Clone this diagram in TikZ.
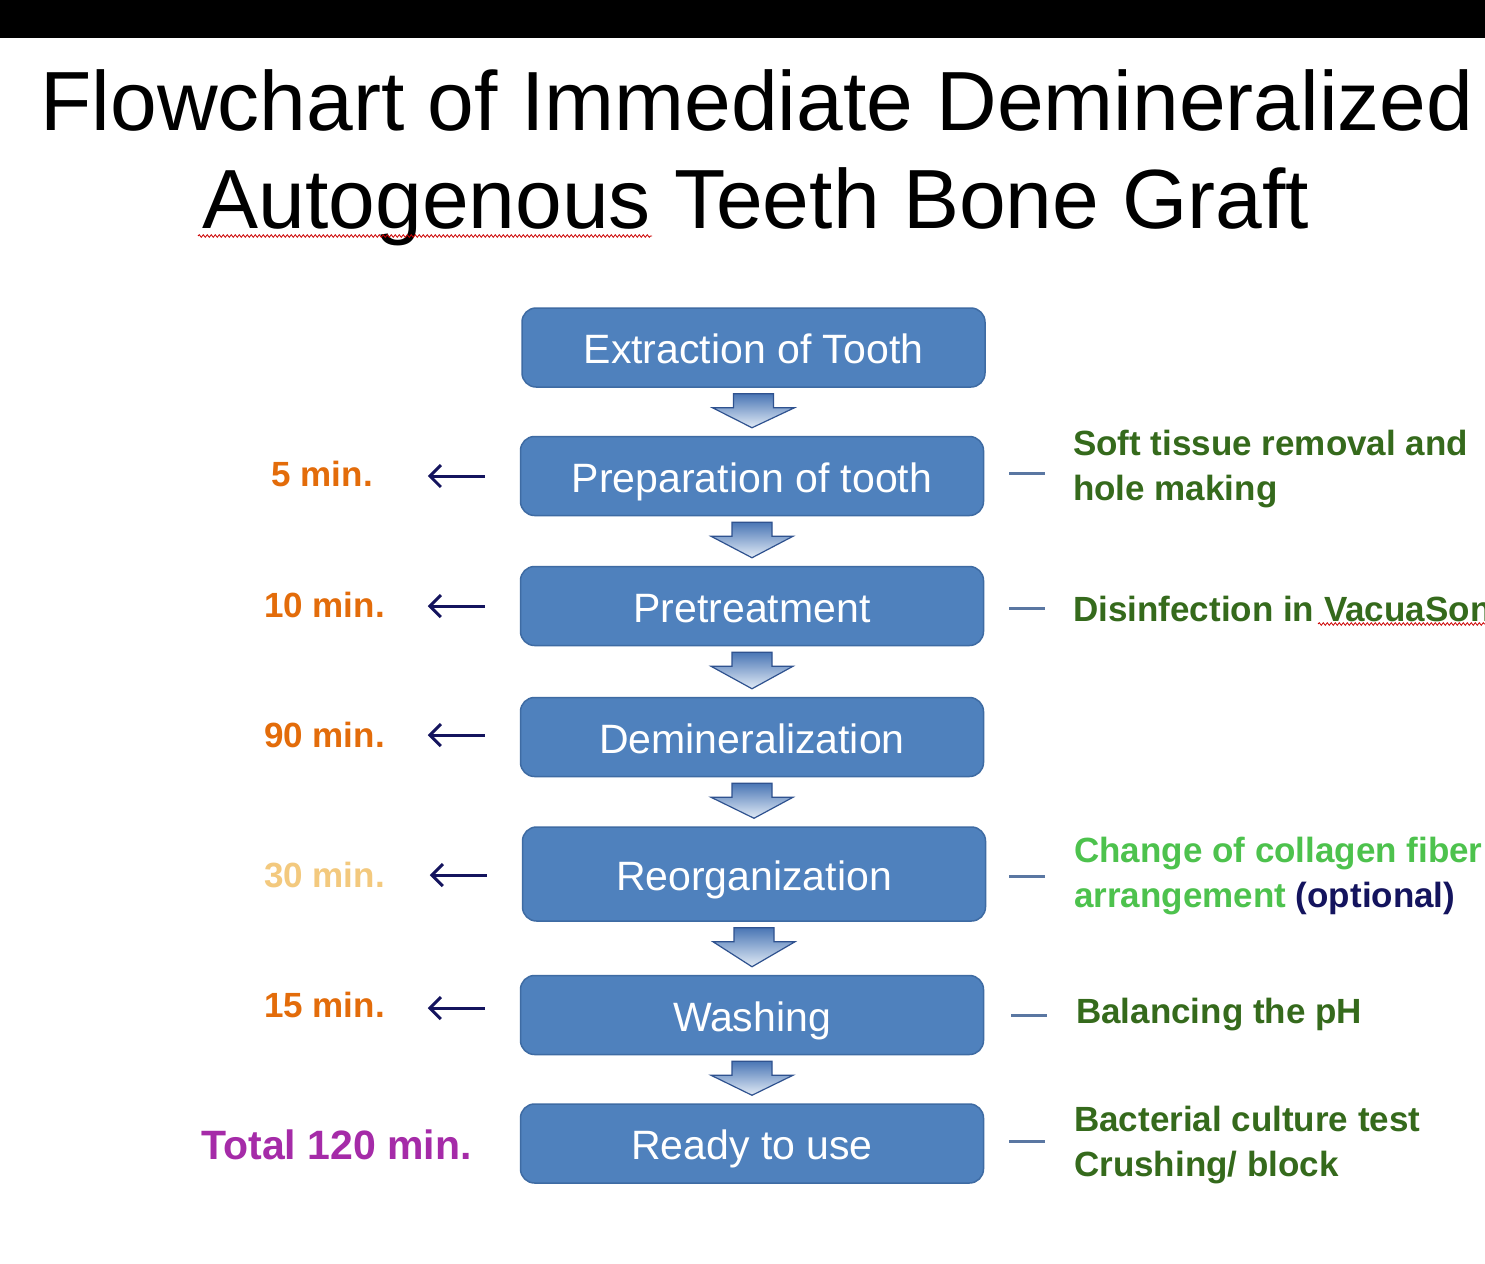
\documentclass[tikz,border=0pt]{standalone}
\usepackage{fontspec}
\setmainfont{Liberation Sans}
\usetikzlibrary{calc,arrows.meta,decorations.pathmorphing}
\definecolor{boxblue}{HTML}{4F81BD}
\definecolor{boxedge}{HTML}{3E6BA3}
\definecolor{arrtop}{HTML}{4A76B5}
\definecolor{arrbot}{HTML}{E2EBF6}
\definecolor{arredge}{HTML}{2F528F}
\definecolor{orng}{HTML}{E36C0A}
\definecolor{lightorng}{HTML}{F3C97E}
\definecolor{purp}{HTML}{A52BA8}
\definecolor{dgreen}{HTML}{356A1C}
\definecolor{bgreen}{HTML}{4DC24D}
\definecolor{navy}{HTML}{14145E}
\definecolor{dashc}{HTML}{5A77A2}
\tikzset{
  stepbox/.style={rectangle, rounded corners=14pt, fill=boxblue, draw=boxedge, line width=1.5pt,
    minimum width=463pt, minimum height=79pt, inner sep=0pt, text=white,
    text height=35pt, text depth=3pt,
    font=\fontsize{41}{49}\selectfont},
  titletext/.style={anchor=base, inner sep=0pt, font=\fontsize{84}{96}\selectfont},
  timelabel/.style={anchor=east, inner sep=0pt, font=\bfseries\fontsize{35}{40}\selectfont},
  notetext/.style={anchor=west, inner sep=0pt, align=left, text=dgreen,
    font=\bfseries\fontsize{35}{45}\selectfont},
  blockarr/.style={top color=arrtop, bottom color=arrbot, draw=arredge, line width=1.2pt, line join=miter},
  leftarr/.style={draw=navy, line width=3pt, -{Straight Barb[length=11pt,width=22pt,line width=3pt]}},
  dashline/.style={draw=dashc, line width=3pt},
  wavy/.style={draw=red!80!black, line width=0.8pt, decorate, decoration={snake, amplitude=1.3pt, segment length=4pt}}
}
\newcommand{\blockarrow}[2]{%
  \path[blockarr] ($(#1.south)+(-20,6)$) -- ($(#1.south)+(20,6)$) -- ($(#1.south)+(20,20)$)
    -- ($(#1.south)+(41,20)$) -- ($(#2.north)+(0,-8)$) -- ($(#1.south)+(-41,20)$)
    -- ($(#1.south)+(-20,20)$) -- cycle;}
\begin{document}
\begin{tikzpicture}[x=1pt,y=-1pt]
\useasboundingbox (0,0) rectangle (1485,1263);
\fill[white] (0,0) rectangle (1485,1263);
\fill[black] (0,0) rectangle (1485,38);

% title
\node[titletext] (t1) at (757,130) {Flowchart of Immediate Demineralized};
\node[titletext] (t2) at (756,228) {Autogenous Teeth Bone Graft};
\draw[wavy] (198,236) -- (652,236);

% boxes
\node[stepbox] (b1) at (753.5,347.5) {Extraction of Tooth};
\node[stepbox] (b2) at (752,476) {Preparation of tooth};
\node[stepbox] (b3) at (752,606) {Pretreatment};
\node[stepbox] (b4) at (752,737) {Demineralization};
\node[stepbox, minimum height=94pt] (b5) at (754,874) {Reorganization};
\node[stepbox] (b6) at (752,1015) {Washing};
\node[stepbox] (b7) at (752,1143.5) {Ready to use};

% block arrows
\blockarrow{b1}{b2}
\blockarrow{b2}{b3}
\blockarrow{b3}{b4}
\blockarrow{b4}{b5}
\blockarrow{b5}{b6}
\blockarrow{b6}{b7}

% time labels
\node[timelabel, text=orng] (l2) at (373,474) {5 min.};
\node[timelabel, text=orng] (l3) at (385,605) {10 min.};
\node[timelabel, text=orng] (l4) at (385,735) {90 min.};
\node[timelabel, text=lightorng] (l5) at (385,875) {30 min.};
\node[timelabel, text=orng] (l6) at (385,1005) {15 min.};
\node[timelabel, text=purp, font=\bfseries\fontsize{41}{48}\selectfont] (l7) at (472,1145) {Total 120 min.};

% left arrows
\draw[leftarr] ($(b2.west)+(-35,0)$) -- ($(b2.west)+(-92,0)$);
\draw[leftarr] ($(b3.west)+(-35,0)$) -- ($(b3.west)+(-92,0)$);
\draw[leftarr] ($(b4.west)+(-35,-2)$) -- ($(b4.west)+(-92,-2)$);
\draw[leftarr] ($(b5.west)+(-35,1)$) -- ($(b5.west)+(-92,1)$);
\draw[leftarr] ($(b6.west)+(-35,-7)$) -- ($(b6.west)+(-92,-7)$);

% right dashes
\draw[dashline] ($(b2.east)+(25,-3)$) -- ++(36,0);
\draw[dashline] ($(b3.east)+(25,2)$) -- ++(36,0);
\draw[dashline] ($(b5.east)+(23,2)$) -- ++(36,0);
\draw[dashline] ($(b6.east)+(27,0)$) -- ++(36,0);
\draw[dashline] ($(b7.east)+(25,-2)$) -- ++(36,0);

% notes
\node[notetext] (n2) at (1073,469) {Soft tissue removal and\\hole making};
\node[notetext] (n3) at (1073,609) {Disinfection in VacuaSon};
\draw[wavy] (1318,624) -- (1485,624);
\node[notetext] (n5) at (1074,876) {\textcolor{bgreen}{Change of collagen fiber}\\\textcolor{bgreen}{arrangement} \textcolor{navy}{(optional)}};
\node[notetext] (n6) at (1076,1015) {Balancing the pH};
\node[notetext] (n7) at (1074,1145) {Bacterial culture test\\Crushing/ block};
\end{tikzpicture}
\end{document}
